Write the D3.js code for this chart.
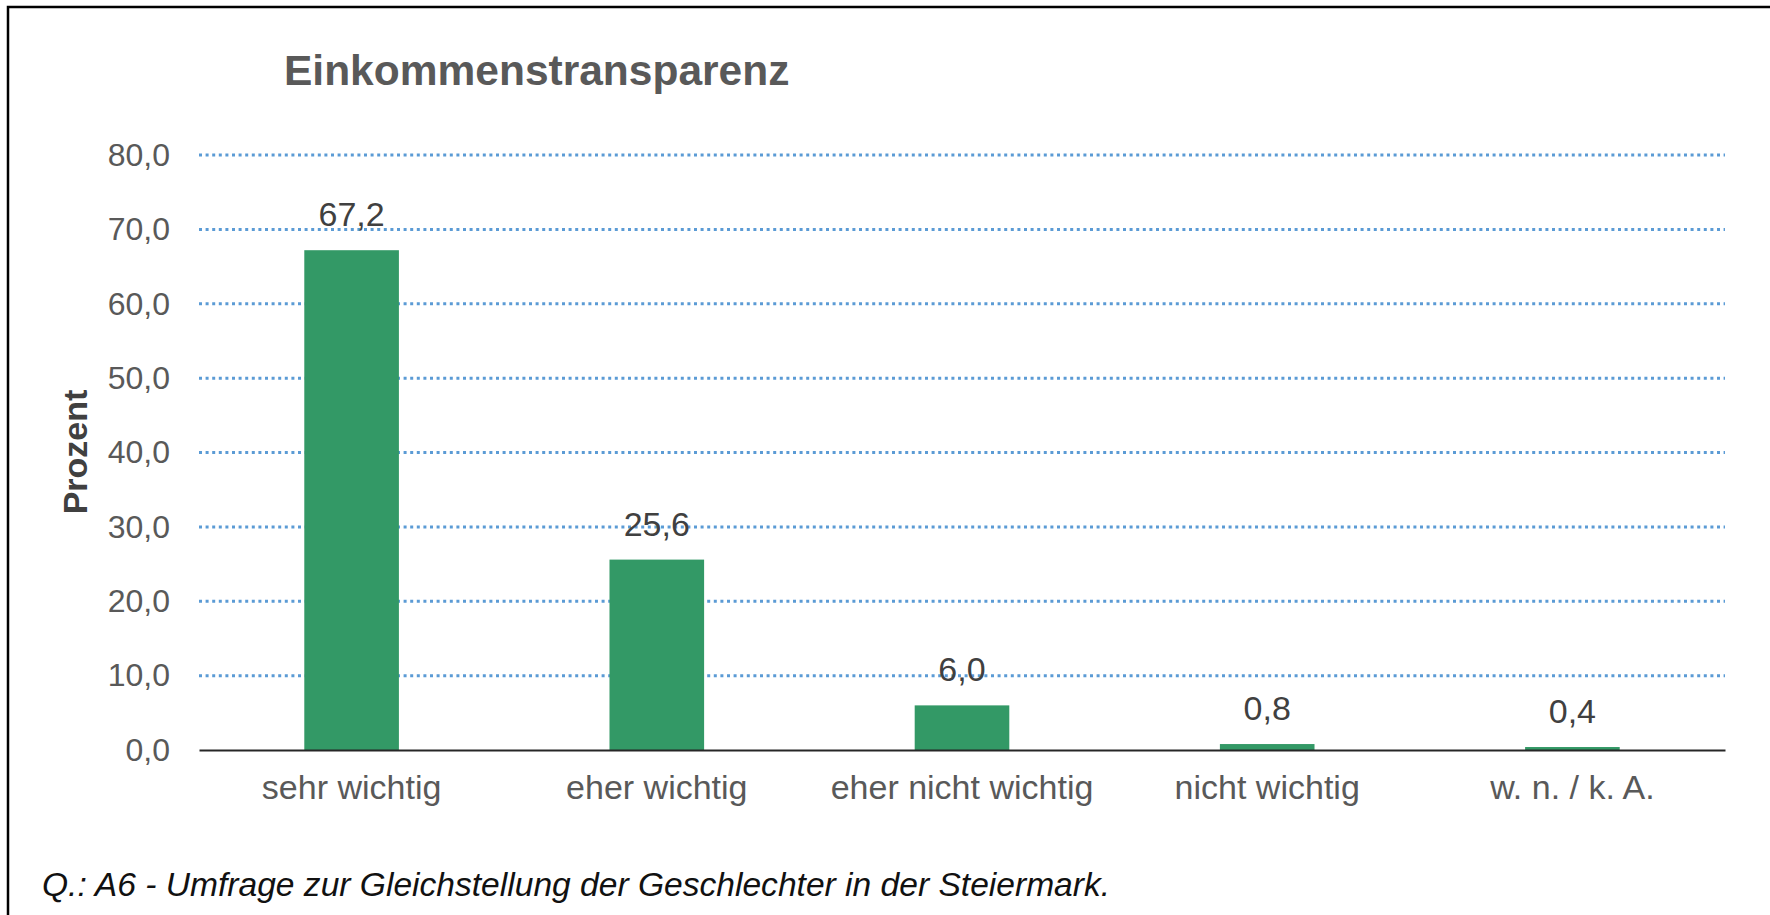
<!DOCTYPE html>
<html>
<head>
<meta charset="utf-8">
<script src="https://cdn.jsdelivr.net/npm/d3@7"></script>
<style>
	body { margin: 0; background: #fff; }
	svg { display: block; font-family: "Liberation Sans", Arial, sans-serif; }
</style>
</head>
<body>
<div id="chart"></div>
<script>
// Data
const categories = ["sehr wichtig", "eher wichtig", "eher nicht wichtig", "nicht wichtig", "w. n. / k. A."];
const values = [67.2, 25.6, 6.0, 0.8, 0.4];
const yTicks = [0, 10, 20, 30, 40, 50, 60, 70, 80];
const title = "Einkommenstransparenz";
const yLabel = "Prozent";
const source = "Q.: A6 - Umfrage zur Gleichstellung der Geschlechter in der Steiermark.";

// german number format: 67,2
const de = d3.formatLocale({ decimal: ",", thousands: ".", grouping: [3], currency: ["", " €"] });
const fmt = de.format(".1f");

class BarChart {
	width; height; margin;
	svg; plot;
	scaleX; scaleY;
	data;

	constructor(container, width, height, margin) {
		this.width = width;
		this.height = height;
		this.margin = margin; // [top, bottom, left, right]

		this.svg = d3.select(container).append("svg")
			.attr("width", width).attr("height", height);

		// frame (right and bottom edge lie outside the picture)
		this.svg.append("rect")
			.attr("x", 8).attr("y", 7)
			.attr("width", width).attr("height", height)
			.attr("fill", "#fff").attr("stroke", "#000").attr("stroke-width", 2.5);

		this.plot = this.svg.append("g");
	}

	#updateScales() {
		let [top, bottom, left, right] = this.margin;
		let p = 0.69;
		this.scaleX = d3.scaleBand(this.data.map(d => d[0]), [left, this.width - right])
			.paddingInner(p).paddingOuter(p / 2);
		this.scaleY = d3.scaleLinear([0, 80], [this.height - bottom, top]);
	}

	#updateGrid() {
		let [top, bottom, left, right] = this.margin;
		this.plot.append("g")
			.selectAll("line")
			.data(yTicks.filter(t => t > 0))
			.join("line")
			.attr("x1", left).attr("x2", this.width - right)
			.attr("y1", d => this.scaleY(d)).attr("y2", d => this.scaleY(d))
			.attr("stroke", "#5b9bd5")
			.attr("stroke-width", 3)
			.attr("stroke-dasharray", "3,3.6");
	}

	#updateAxes() {
		let [top, bottom, left, right] = this.margin;

		let axisY = this.plot.append("g")
			.attr("transform", `translate(${left},0)`)
			.call(d3.axisLeft(this.scaleY).tickValues(yTicks).tickFormat(fmt).tickSize(0).tickPadding(29));
		axisY.select(".domain").remove();
		axisY.selectAll("text")
			.attr("font-size", 32).attr("font-family", null).attr("fill", "#595959");

		let axisX = this.plot.append("g")
			.attr("transform", `translate(0,${this.height - bottom})`)
			.call(d3.axisBottom(this.scaleX).tickSize(0).tickSizeOuter(0).tickPadding(25));
		axisX.select(".domain").attr("stroke", "#262626").attr("stroke-width", 2);
		axisX.selectAll("text")
			.attr("font-size", 34).attr("font-family", null).attr("fill", "#595959");
	}

	#updateBars() {
		this.plot.append("g")
			.selectAll("rect")
			.data(this.data)
			.join("rect")
			.attr("x", d => this.scaleX(d[0]))
			.attr("y", d => this.scaleY(d[1]))
			.attr("width", this.scaleX.bandwidth())
			.attr("height", d => this.scaleY(0) - this.scaleY(d[1]))
			.attr("fill", "#339966");

		// value labels above bars
		this.plot.append("g")
			.selectAll("text")
			.data(this.data)
			.join("text")
			.attr("x", d => this.scaleX(d[0]) + this.scaleX.bandwidth() / 2)
			.attr("y", d => this.scaleY(d[1]) - 24)
			.attr("text-anchor", "middle")
			.attr("font-size", 34).attr("fill", "#404040")
			.text(d => fmt(d[1]));
	}

	render(dataset) {
		this.data = dataset;
		this.#updateScales();
		this.#updateGrid();
		this.#updateBars();
		this.#updateAxes();
		return this;
	}

	setLabels(title, yLabel, source) {
		this.svg.append("text")
			.attr("x", 284).attr("y", 85)
			.attr("font-size", 42.5).attr("font-weight", "bold").attr("fill", "#595959")
			.text(title);

		this.svg.append("text")
			.attr("transform", `translate(87, 452) rotate(-90)`)
			.attr("text-anchor", "middle")
			.attr("font-size", 34).attr("font-weight", "bold").attr("fill", "#404040")
			.text(yLabel);

		this.svg.append("text")
			.attr("x", 42).attr("y", 896)
			.attr("font-size", 33.6).attr("font-style", "italic").attr("fill", "#111")
			.text(source);
		return this;
	}
}

new BarChart("#chart", 1770, 915, [155, 165, 199, 45])
	.render(categories.map((c, i) => [c, values[i]]))
	.setLabels(title, yLabel, source);
</script>
</body>
</html>
